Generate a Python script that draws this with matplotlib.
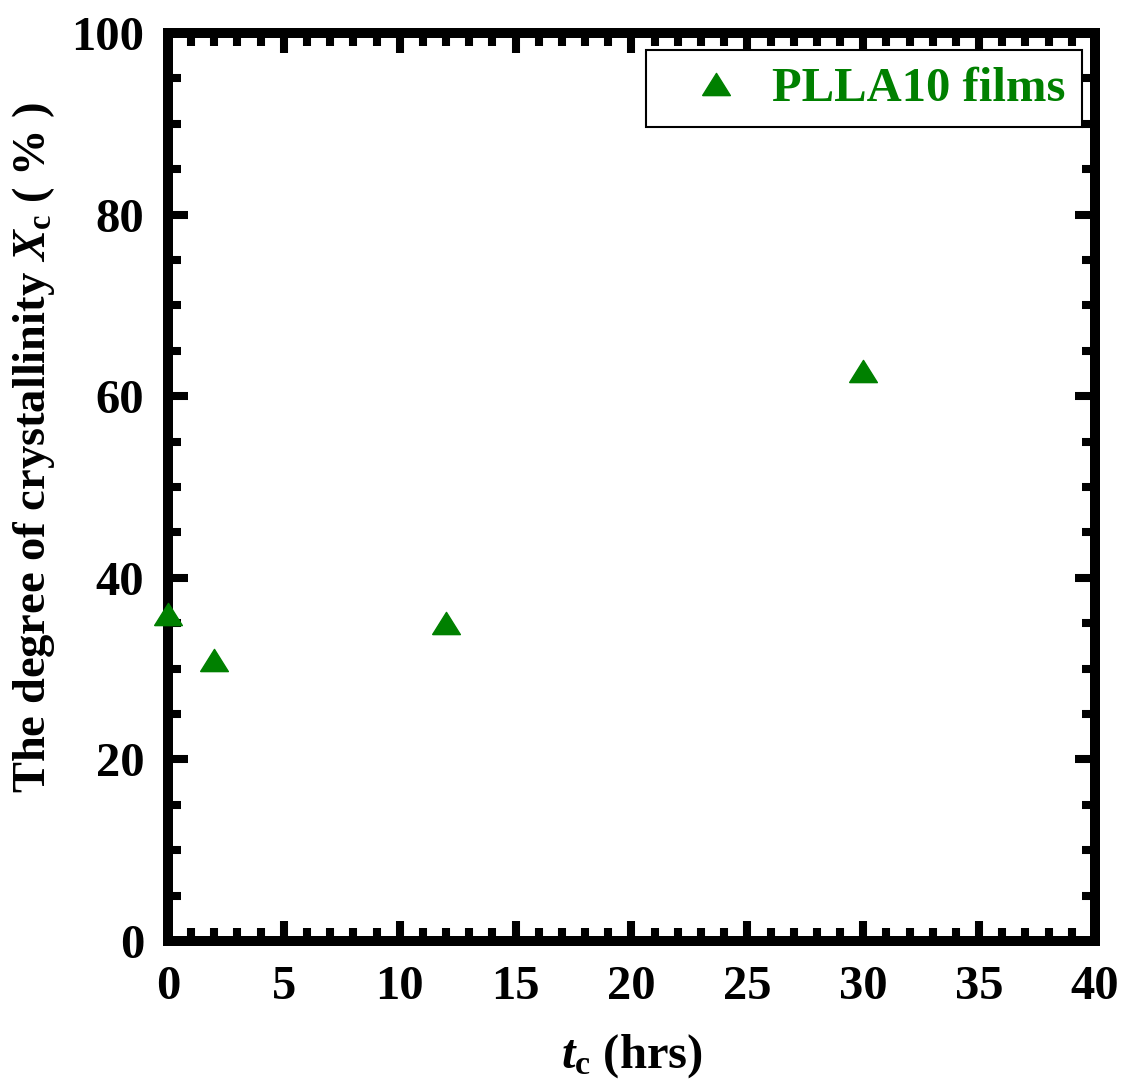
import numpy as np
import matplotlib.pyplot as plt
from matplotlib.ticker import MultipleLocator

# data
tc_hrs = [0, 2, 12, 30]
xc_pct = [36.0, 30.9, 35.0, 62.8]
series_name = 'PLLA10 films'

plt.rcParams['font.family'] = 'Liberation Serif'
plt.rcParams['font.weight'] = 'bold'
plt.rcParams['axes.labelweight'] = 'bold'
plt.rcParams['mathtext.fontset'] = 'custom'
plt.rcParams['mathtext.rm'] = 'Liberation Serif:bold'
plt.rcParams['mathtext.it'] = 'Liberation Serif:italic:bold'
plt.rcParams['mathtext.bf'] = 'Liberation Serif:bold'

fig = plt.figure(figsize=(11.27, 10.82), dpi=100)
ax = fig.add_axes([0.149, 0.1303, 0.8226, 0.8392])

# flattened triangle marker
tri = [(-1, -0.8), (1, -0.8), (0, 0.8), (-1, -0.8)]
ax.plot(tc_hrs, xc_pct, linestyle='none', marker=tri, markersize=20,
        color='#008000', label=series_name, clip_on=False, zorder=5)

ax.set_xlim(0, 40)
ax.set_ylim(0, 100)
ax.xaxis.set_major_locator(MultipleLocator(5))
ax.xaxis.set_minor_locator(MultipleLocator(1))
ax.yaxis.set_major_locator(MultipleLocator(20))
ax.yaxis.set_minor_locator(MultipleLocator(5))

for s in ax.spines.values():
    s.set_linewidth(7.2)
ax.tick_params(which='both', direction='in', top=True, right=True,
               labelsize=35, width=5.8, pad=17)
ax.tick_params(which='major', length=14.5)
ax.tick_params(which='minor', length=9.4)
for lab in ax.get_xticklabels() + ax.get_yticklabels():
    lab.set_fontweight('bold')

ax.set_xlabel(r'$\mathit{t}_{\mathrm{c}}$ (hrs)', fontsize=35, fontweight='bold')
ax.set_ylabel(r'The degree of crystallinity $\mathit{X}_{\mathrm{c}}$ ( % )',
              fontsize=33.5, fontweight='bold')
ax.yaxis.set_label_coords(-0.12, 0.543)
ax.xaxis.set_label_coords(0.5, -0.1)

leg = ax.legend(loc='upper right', bbox_to_anchor=(0.986, 0.9813),
                borderaxespad=0, fancybox=False, framealpha=1,
                edgecolor='black', labelcolor='#008000',
                prop={'family': 'Liberation Serif', 'weight': 'bold', 'size': 35},
                handletextpad=0.05, borderpad=0.34, handlelength=2.2)
leg.get_frame().set_linewidth(1.5)

fig.savefig('out.png', dpi=100)
